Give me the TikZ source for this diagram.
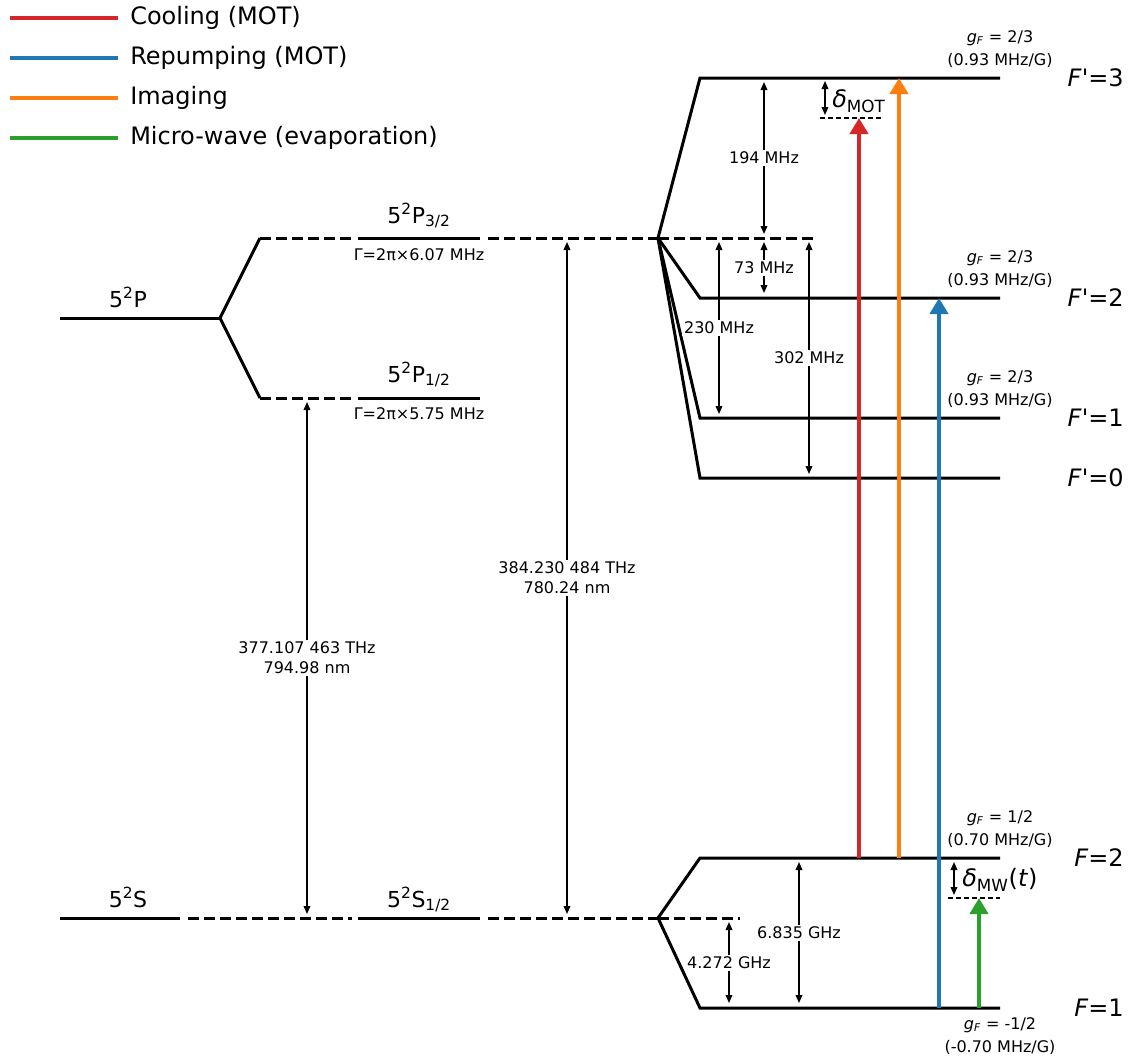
\documentclass[tikz,border=0pt]{standalone}
\usepackage{fontspec}
\setmainfont{DejaVu Sans}[Ligatures=TeXOff]
\usetikzlibrary{arrows.meta}
\definecolor{coolc}{HTML}{D62728}
\definecolor{repc}{HTML}{1F77B4}
\definecolor{imgc}{HTML}{FF7F0E}
\definecolor{mwc}{HTML}{2CA02C}
\begin{document}
\begin{tikzpicture}[x=0.75pt,y=-0.75pt,
  lvl/.style={line width=2.25pt, line join=miter},
  dlvl/.style={line width=2.25pt, dash pattern=on 8.25pt off 3.75pt},
  thinarr/.style={line width=1.1pt, {Triangle[length=6pt,width=5pt]}-{Triangle[length=6pt,width=5pt]}},
  thindash/.style={line width=1.1pt, dash pattern=on 4pt off 2pt},
  beam/.style={line width=3pt, -{Triangle[length=12pt,width=13.5pt]}},
  small/.style={font=\fontsize{12}{15}\selectfont, inner sep=0pt},
  lab/.style={font=\fontsize{12}{15}\selectfont, fill=white, inner sep=1.5pt, align=center},
  big/.style={font=\fontsize{18}{21}\selectfont, inner sep=0pt},
  lname/.style={font=\fontsize{16.5}{19}\selectfont, anchor=base, inner sep=0pt},
  leg/.style={line width=3pt},
]
\useasboundingbox (0,0) rectangle (1136,1060);

% ---------------- legend ----------------
\coordinate (l1a) at (10,18);  \coordinate (l1b) at (118,18);
\coordinate (l2a) at (10,58);  \coordinate (l2b) at (118,58);
\coordinate (l3a) at (10,98);  \coordinate (l3b) at (118,98);
\coordinate (l4a) at (10,138); \coordinate (l4b) at (118,138);
\draw[leg, coolc] (l1a) -- (l1b);
\draw[leg, repc] (l2a) -- (l2b);
\draw[leg, imgc] (l3a) -- (l3b);
\draw[leg, mwc] (l4a) -- (l4b);
\node[big, anchor=west] (tl1) at (130,18) {Cooling (MOT)};
\node[big, anchor=west] (tl2) at (130,58) {Repumping (MOT)};
\node[big, anchor=west] (tl3) at (130,98) {Imaging};
\node[big, anchor=west] (tl4) at (130,138) {Micro-wave (evaporation)};

% ---------------- fine structure ----------------
\coordinate (Pl) at (60,318);   \coordinate (Pr) at (220,318);
\coordinate (P3s) at (260,238); \coordinate (P1s) at (260,398);
\draw[lvl] (Pl) -- (Pr);
\draw[lvl] (Pr) -- (P3s);
\draw[lvl] (Pr) -- (P1s);
\draw[dlvl] (P3s) -- (352,238);
\draw[lvl] (358,238) -- (480,238);
\draw[dlvl] (488,238) -- (658,238);
\draw[dlvl] (P1s) -- (352,398);
\draw[lvl] (358,398) -- (480,398);

\coordinate (Sl) at (60,918);
\draw[lvl] (Sl) -- (180,918);
\draw[dlvl] (188,918) -- (352,918);
\draw[lvl] (358,918) -- (480,918);
\draw[dlvl] (488,918) -- (658,918);

\node[lname] (nP) at (128,307) {5\textsuperscript{2}P};
\node[lname] (nS) at (128,907) {5\textsuperscript{2}S};
\node[lname] (nP3) at (419,223) {5\textsuperscript{2}P\textsubscript{3/2}};
\node[lname] (nP1) at (419,382) {5\textsuperscript{2}P\textsubscript{1/2}};
\node[lname] (nS1) at (419,907) {5\textsuperscript{2}S\textsubscript{1/2}};
\node[small] (g3) at (419,255) {Γ=2π×6.07 MHz};
\node[small] (g1) at (419,414) {Γ=2π×5.75 MHz};

% D1 / D2 arrows
\coordinate (d1t) at (307,402); \coordinate (d1b) at (307,914);
\coordinate (d2t) at (567,242); \coordinate (d2b) at (567,914);
\draw[thinarr] (d1t) -- (d1b);
\draw[thinarr] (d2t) -- (d2b);
\node[lab] (d1l) at (307,658) {377.107 463 THz\\794.98 nm};
\node[lab] (d2l) at (567,578) {384.230 484 THz\\780.24 nm};

% ---------------- P3/2 hyperfine ----------------
\coordinate (Hs) at (658,238);
\coordinate (F3l) at (700,78);  \coordinate (F3r) at (1000,78);
\coordinate (F2l) at (700,298); \coordinate (F2r) at (1000,298);
\coordinate (F1l) at (700,418); \coordinate (F1r) at (1000,418);
\coordinate (F0l) at (700,478); \coordinate (F0r) at (1000,478);
\draw[lvl] (Hs) -- (F3l) -- (F3r);
\draw[lvl] (Hs) -- (F2l) -- (F2r);
\draw[lvl] (Hs) -- (F1l) -- (F1r);
\draw[lvl] (Hs) -- (F0l) -- (F0r);
\draw[dlvl] (Hs) -- (815,238);

\draw[thinarr] (764,82) -- (764,234);
\draw[thinarr] (764,242) -- (764,293);
\draw[thinarr] (719,242) -- (719,414);
\draw[thinarr] (809,242) -- (809,474);
\node[lab] (l194) at (764,158) {194 MHz};
\node[lab] (l73) at (764,268) {73 MHz};
\node[lab] (l230) at (719,328) {230 MHz};
\node[lab] (l302) at (809,358) {302 MHz};

% delta MOT
\coordinate (dMOT) at (825,118);
\draw[thindash] (820,118) -- (881,118);
\draw[thinarr] (825,81) -- (825,115);
\node[big, anchor=west] (dmotl) at (832,101) {\textit{δ}\textsubscript{MOT}};

% ---------------- S1/2 hyperfine ----------------
\coordinate (Ss) at (658,918);
\coordinate (G2l) at (700,858);  \coordinate (G2r) at (1000,858);
\coordinate (G1l) at (700,1008); \coordinate (G1r) at (1000,1008);
\draw[lvl] (Ss) -- (G2l) -- (G2r);
\draw[lvl] (Ss) -- (G1l) -- (G1r);
\draw[dlvl] (Ss) -- (740,918);
\draw[thinarr] (799,862) -- (799,1003);
\draw[thinarr] (729,922) -- (729,1003);
\node[lab] (l6835) at (799,933) {6.835 GHz};
\node[lab] (l4272) at (729,963) {4.272 GHz};

% delta MW
\coordinate (dMW) at (979,898);
\draw[thindash] (948,898) -- (1000,898);
\draw[thinarr] (954,862) -- (954,895);
\node[big, anchor=west] (dmwl) at (962,880) {\textit{δ}\textsubscript{MW}(\textit{t})};

% ---------------- g-factors and F labels ----------------
\node[small] (gf3) at (1000,38) {\textit{g}\textsubscript{\textit{F}} = 2/3};
\node[small] (gf3b) at (1000,60) {(0.93 MHz/G)};
\node[small] (gf2) at (1000,258) {\textit{g}\textsubscript{\textit{F}} = 2/3};
\node[small] (gf2b) at (1000,280) {(0.93 MHz/G)};
\node[small] (gf1) at (1000,378) {\textit{g}\textsubscript{\textit{F}} = 2/3};
\node[small] (gf1b) at (1000,400) {(0.93 MHz/G)};
\node[small] (gg2) at (1000,818) {\textit{g}\textsubscript{\textit{F}} = 1/2};
\node[small] (gg2b) at (1000,840) {(0.70 MHz/G)};
\node[small] (gg1) at (1000,1025) {\textit{g}\textsubscript{\textit{F}} = -1/2};
\node[small] (gg1b) at (1000,1047) {(-0.70 MHz/G)};

\node[big, anchor=east] (nF3) at (1124,78) {\textit{F}'=3};
\node[big, anchor=east] (nF2) at (1124,298) {\textit{F}'=2};
\node[big, anchor=east] (nF1) at (1124,418) {\textit{F}'=1};
\node[big, anchor=east] (nF0) at (1124,478) {\textit{F}'=0};
\node[big, anchor=east] (nG2) at (1124,858) {\textit{F}=2};
\node[big, anchor=east] (nG1) at (1124,1008) {\textit{F}=1};

% ---------------- laser beams ----------------
\coordinate (cb) at (859,858);  \coordinate (ct) at (859,118);
\coordinate (ib) at (899,858);  \coordinate (it) at (899,78);
\coordinate (rb) at (939,1008); \coordinate (rt) at (939,298);
\coordinate (mb) at (979,1008); \coordinate (mt) at (979,898);
\draw[beam, coolc] (cb) -- (ct);
\draw[beam, imgc] (ib) -- (it);
\draw[beam, repc] (rb) -- (rt);
\draw[beam, mwc] (mb) -- (mt);
\end{tikzpicture}
\end{document}
